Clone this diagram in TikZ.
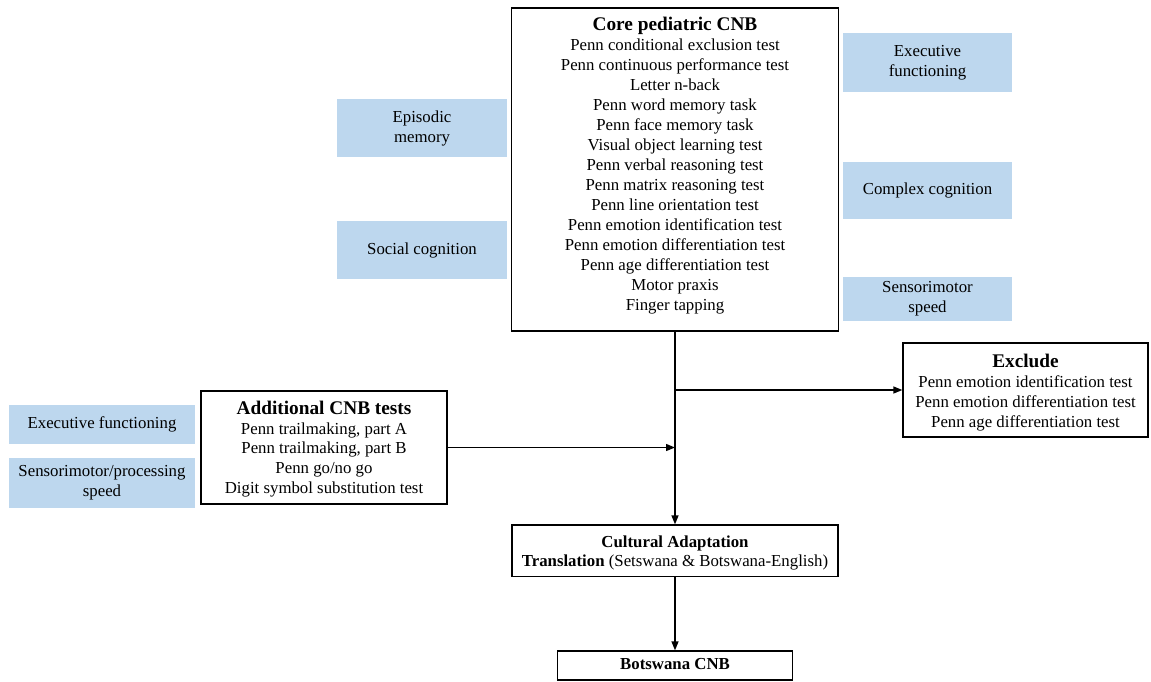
\documentclass[tikz,border=0pt]{standalone}
\usepackage{fontspec}
\setmainfont{Liberation Serif}
\usetikzlibrary{arrows.meta}
\definecolor{bluefill}{HTML}{BDD7EE}
\tikzset{
  frame/.style={draw, line width=1.3pt, inner sep=0pt},
  catbox/.style={fill=bluefill, inner sep=0pt, align=center, font=\fontsize{16.8}{20}\selectfont},
  txt/.style={inner sep=0pt, align=center, font=\fontsize{16.8}{20}\selectfont},
  ttl/.style={font=\fontsize{19.3}{20}\selectfont\bfseries},
  arr/.style={line width=1.3pt, -{Triangle[length=9pt,width=7pt]}},
}
\newcommand{\ttlfont}{\fontsize{19.3}{20}\selectfont\bfseries}
\begin{document}
\begin{tikzpicture}[x=1pt,y=-1pt]
\useasboundingbox (0,0) rectangle (1151,681);
% frames
\node[frame, minimum width=327pt, minimum height=323pt] (core) at (675,169.5) {};
\node[frame, minimum width=246pt, minimum height=113pt] (add) at (324,447.5) {};
\node[frame, minimum width=245pt, minimum height=94pt] (excl) at (1025.5,390) {};
\node[frame, minimum width=326pt, minimum height=51.5pt] (cult) at (675,550.75) {};
\node[frame, minimum width=235.5pt, minimum height=29pt] (bots) at (675,665.5) {};
% texts
\node[txt, anchor=north] (coretxt) at (675,16.8) {{\ttlfont Core pediatric CNB}\\
Penn conditional exclusion test\\
Penn continuous performance test\\
Letter n-back\\
Penn word memory task\\
Penn face memory task\\
Visual object learning test\\
Penn verbal reasoning test\\
Penn matrix reasoning test\\
Penn line orientation test\\
Penn emotion identification test\\
Penn emotion differentiation test\\
Penn age differentiation test\\
Motor praxis\\
Finger tapping};
\node[txt, anchor=north, font=\fontsize{16.8}{19.7}\selectfont] (addtxt) at (324,400.8) {{\ttlfont Additional CNB tests}\\
Penn trailmaking, part A\\
Penn trailmaking, part B\\
Penn go/no go\\
Digit symbol substitution test};
\node[txt, anchor=north] (excltxt) at (1025.5,353.5) {{\ttlfont Exclude}\\
Penn emotion identification test\\
Penn emotion differentiation test\\
Penn age differentiation test};
\node[txt, anchor=north, font=\fontsize{16.8}{19}\selectfont] (culttxt) at (675,535.2) {{\bfseries Cultural Adaptation}\\
{\bfseries Translation} (Setswana \& Botswana-English)};
\node[txt, anchor=north, font=\fontsize{16.8}{19}\selectfont\bfseries] (botstxt) at (675,658.5) {Botswana CNB};
% category boxes
\node[catbox, minimum width=170pt, minimum height=58pt] (episodic) at (422,128) {Episodic\\memory};
\node[catbox, minimum width=170pt, minimum height=58pt] (social) at (422,250) {Social cognition};
\node[catbox, minimum width=169pt, minimum height=59pt] (execR) at (927.5,62.5) {Executive\\functioning};
\node[catbox, minimum width=169pt, minimum height=57pt] (complex) at (927.5,190.5) {Complex cognition};
\node[catbox, minimum width=169pt, minimum height=44pt] (sensR) at (927.5,299) {Sensorimotor\\speed};
\node[catbox, minimum width=186pt, minimum height=39pt] (execL) at (102,424.5) {Executive functioning};
\node[catbox, minimum width=186pt, minimum height=50pt] (sensL) at (102,483) {Sensorimotor/processing\\speed};
% connectors
\draw[arr] (core.south) -- (cult.north);
\draw[arr] (core.south |- excl.west) -- (excl.west);
\draw[arr] (add.east) -- (core.south |- add.east);
\draw[arr] (cult.south) -- (bots.north);
\end{tikzpicture}
\end{document}
